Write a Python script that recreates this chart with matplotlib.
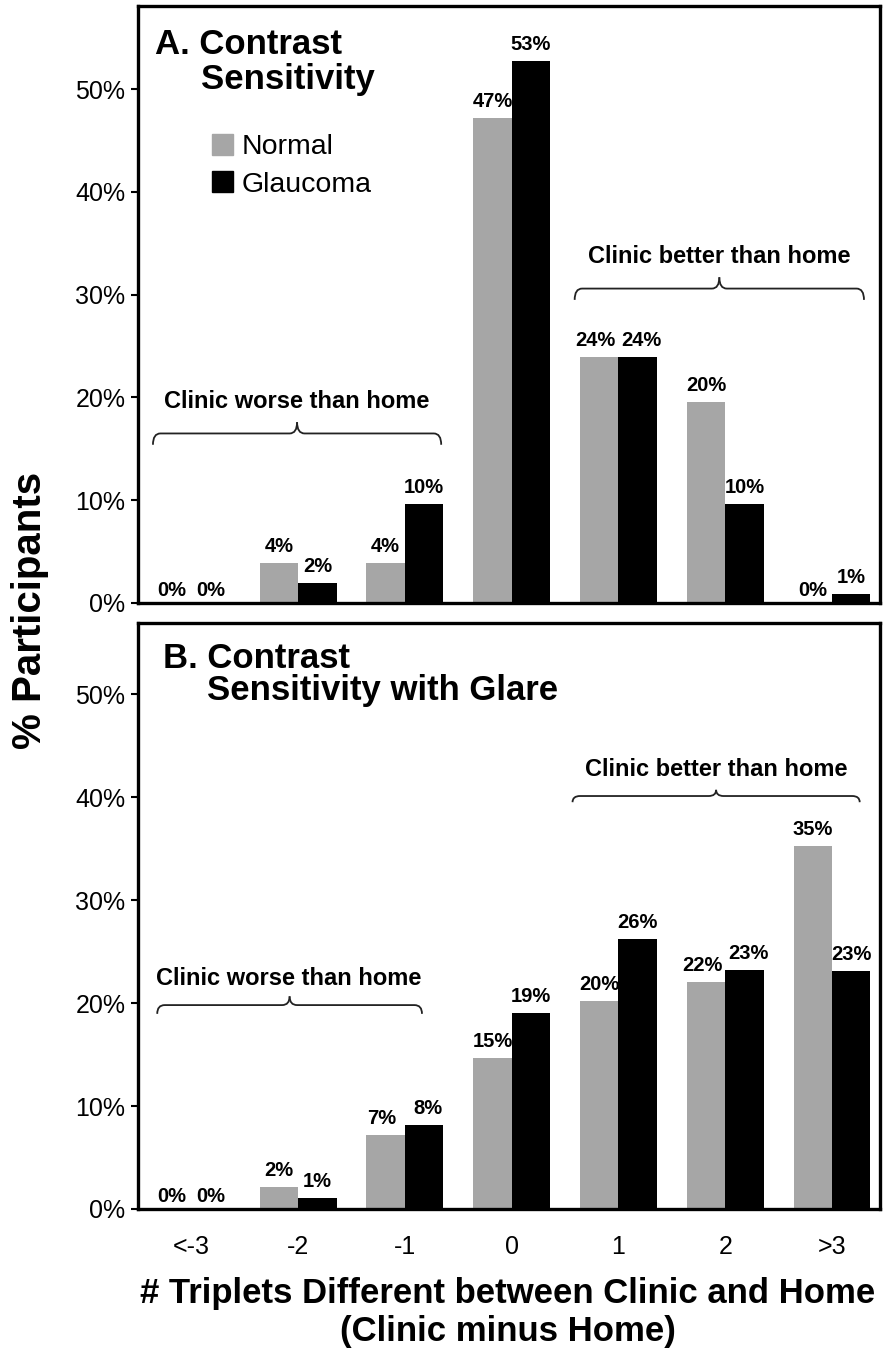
import numpy as np
import matplotlib
matplotlib.use('Agg')
import matplotlib.pyplot as plt
from matplotlib import font_manager
from matplotlib.path import Path
from matplotlib.patches import PathPatch, Patch

# categories (# triplets, clinic minus home)
categories = ['<-3', '-2', '-1', '0', '1', '2', '>3']

# panel A: contrast sensitivity (% participants)
cs_normal = [0.0, 3.9, 3.9, 47.2, 23.9, 19.6, 0.0]
cs_glaucoma = [0.0, 1.9, 9.6, 52.7, 23.9, 9.6, 0.9]

# panel B: contrast sensitivity with glare
glare_normal = [0.0, 2.1, 7.2, 14.7, 20.2, 22.0, 35.2]
glare_glaucoma = [0.0, 1.1, 8.2, 19.0, 26.2, 23.2, 23.1]

yticks = [0, 10, 20, 30, 40, 50]

names = {f.name for f in font_manager.fontManager.ttflist}
SANS = 'Liberation Sans'
NARROW = 'Liberation Sans Narrow' if 'Liberation Sans Narrow' in names else None
plt.rcParams['font.family'] = [SANS, 'DejaVu Sans']

GRAY = '#a6a6a6'
BLACK = '#000000'


def brace(ax, x0, x1, y, h):
    # curly bracket drawn as two halves meeting at a small peak
    xm = (x0 + x1) / 2
    r = 0.07
    for xa, s in ((x0, 1), (x1, -1)):
        verts = [(xa, y - h), (xa, y), (xa + s * r, y),
                 (xm - s * r, y), (xm, y), (xm, y + h)]
        codes = [Path.MOVETO, Path.CURVE3, Path.CURVE3,
                 Path.LINETO, Path.CURVE3, Path.CURVE3]
        ax.add_patch(PathPatch(Path(verts, codes), fill=False, lw=1.3, color='#222222'))


def panel(ax, normal, glaucoma, ytop):
    x = np.arange(len(categories))
    w = 0.36
    ax.bar(x - w / 2, normal, w, color=GRAY, edgecolor='none')
    ax.bar(x + w / 2, glaucoma, w, color=BLACK, edgecolor='none')
    for i, (n, g) in enumerate(zip(normal, glaucoma)):
        # spread the two labels a little when they sit at about the same height
        spread = 4 if (abs(n - g) < 1.5 and min(n, g) > 5) else 0
        for xi, v, dx in ((i - w / 2, n, -spread), (i + w / 2, g, spread)):
            off = 3 if v < 0.5 else 7
            ax.annotate(f'{v:.0f}%', (xi, v), xytext=(dx, off), textcoords='offset pixels',
                        ha='center', va='bottom', fontsize=14.5, fontweight='bold')
    ax.set_xlim(-0.5, 6.45)
    ax.set_ylim(0, ytop)
    ax.set_yticks(yticks)
    ax.set_yticklabels([f'{t}%' for t in yticks], fontsize=18)
    ax.tick_params(axis='y', direction='out', length=5, width=1.5, pad=4)
    for sp in ax.spines.values():
        sp.set_linewidth(2.4)
        sp.set_color('black')


fig = plt.figure(figsize=(8.88, 13.51), dpi=100)
axA = fig.add_axes([138 / 888, 1 - 603 / 1351, 742 / 888, 597 / 1351])
axB = fig.add_axes([138 / 888, 1 - 1209 / 1351, 742 / 888, 586 / 1351])

panel(axA, cs_normal, cs_glaucoma, 58.1)
panel(axB, glare_normal, glare_glaucoma, 56.9)

axA.set_xticks([])
axB.set_xticks(np.arange(len(categories)))
if NARROW:
    axB.set_xticklabels(categories, fontsize=19, family=NARROW)
else:
    axB.set_xticklabels(categories, fontsize=18)
axB.tick_params(axis='x', length=0, pad=19)

# panel titles
axA.text(-0.337, 54.4, 'A. Contrast', fontsize=25, fontweight='bold', va='center')
axA.text(0.094, 50.9, 'Sensitivity', fontsize=25, fontweight='bold', va='center')
axB.text(-0.27, 53.5, 'B. Contrast', fontsize=25, fontweight='bold', va='center')
axB.text(0.15, 50.3, 'Sensitivity with Glare', fontsize=25, fontweight='bold', va='center')

# legend
handles = [Patch(color=GRAY, label='Normal'), Patch(color=BLACK, label='Glaucoma')]
fig.legend(handles=handles, loc='upper left', bbox_to_anchor=(212 / 888, 1 - 134 / 1351),
           frameon=False, fontsize=20.5, handlelength=0.75, handleheight=0.75,
           handletextpad=0.3, labelspacing=0.38, borderpad=0, borderaxespad=0)

# brackets
brace(axA, -0.36, 2.34, 16.5, 1.1)
axA.text(0.99, 19.6, 'Clinic worse than home', ha='center', va='center', fontsize=17, fontweight='bold')
brace(axA, 3.59, 6.30, 30.6, 1.1)
axA.text(4.94, 33.7, 'Clinic better than home', ha='center', va='center', fontsize=17, fontweight='bold')
brace(axB, -0.32, 2.16, 19.8, 0.85)
axB.text(0.91, 22.4, 'Clinic worse than home', ha='center', va='center', fontsize=17, fontweight='bold')
brace(axB, 3.57, 6.26, 40.1, 0.6)
axB.text(4.92, 42.7, 'Clinic better than home', ha='center', va='center', fontsize=17, fontweight='bold')

# axis titles
fig.text(30 / 888, 1 - 610 / 1351, '% Participants', rotation=90, ha='center', va='center',
         fontsize=29, fontweight='bold')
if NARROW:
    xl_kw = dict(fontsize=30, fontweight='bold', family=NARROW)
else:
    xl_kw = dict(fontsize=25, fontweight='bold')
fig.text(508 / 888, 1 - 1293 / 1351, '# Triplets Different between Clinic and Home',
         ha='center', va='center', **xl_kw)
fig.text(508 / 888, 1 - 1331 / 1351, '(Clinic minus Home)', ha='center', va='center', **xl_kw)

fig.savefig('out.png', dpi=100)
